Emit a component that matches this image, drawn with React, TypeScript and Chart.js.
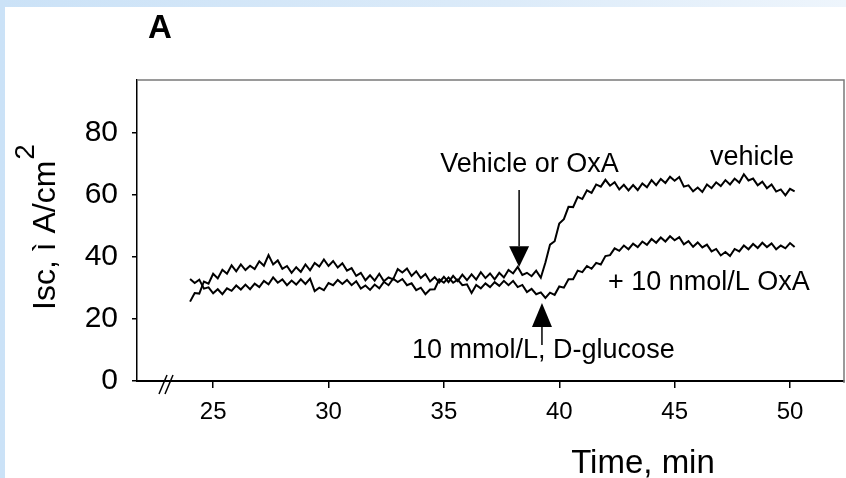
import { useEffect, useRef } from "react";
import { Chart, registerables } from "chart.js";

Chart.register(...registerables);

// ---- data ----
const TIME_START = 24.0;
const TIME_STEP = 0.2;

const VEHICLE = [
  25.6, 28.4, 28.2, 32.1, 31.4, 34.6, 33.1, 35.9, 34.6, 37.3,
  35.4, 37.6, 35.8, 37.2, 36.1, 38.6, 37.2, 40.6, 37.6, 38.9,
  36.2, 37.1, 34.9, 36.7, 35.2, 37.6, 35.7, 38.1, 36.9, 39.2,
  37.1, 38.7, 36.6, 38.0, 35.6, 36.4, 33.9, 34.9, 32.5, 34.1,
  32.4, 34.6, 32.2, 33.4, 32.8, 36.1, 35.0, 36.3, 33.9, 35.4,
  33.2, 34.5, 32.1, 33.5, 31.8, 33.6, 31.9, 33.9, 32.2, 34.3,
  32.5, 34.4, 32.7, 35.1, 33.2, 34.7, 32.8, 34.9, 33.4, 35.8,
  34.7, 36.8, 34.2, 34.9, 33.8, 35.6, 33.3, 38.2, 44.0, 45.1,
  50.8, 52.2, 56.2, 56.1, 59.4, 58.7, 61.5, 60.7, 63.4, 62.7,
  64.9, 63.0, 64.1, 61.8, 63.3, 61.5, 63.2, 61.6, 63.7, 62.5,
  64.8, 63.2, 65.2, 63.9, 65.9, 64.6, 65.8, 62.7, 63.1, 61.2,
  62.4, 61.0, 63.4, 62.2, 64.1, 62.9, 64.8, 63.4, 65.3, 64.0,
  66.7, 64.7, 65.3, 63.1, 64.3, 62.2, 63.4, 61.1, 61.8, 59.9,
  62.0, 61.2,
];

const OXA = [
  32.9, 31.6, 32.7, 29.8, 30.2, 28.3, 29.6, 28.0, 29.9, 29.1,
  30.8, 29.5, 31.1, 29.6, 31.4, 30.3, 32.3, 31.2, 33.4, 31.7,
  32.8, 30.9, 32.4, 31.1, 32.8, 31.3, 33.0, 29.0, 30.1, 29.3,
  31.6, 30.9, 32.6, 31.3, 32.6, 30.9, 32.2, 29.8, 30.8, 29.4,
  31.1, 29.9, 32.0, 30.9, 33.0, 31.9, 32.9, 30.9, 31.5, 29.3,
  30.1, 28.0, 29.5, 29.6, 32.8, 31.7, 33.4, 31.7, 32.7, 30.9,
  31.2, 28.4, 31.0, 29.9, 31.5, 30.3, 31.9, 30.7, 32.3, 30.9,
  32.3, 30.3, 31.0, 28.7, 29.7, 28.0, 28.6, 26.8, 28.5, 27.8,
  30.5, 30.1, 32.8, 32.8, 35.6, 35.1, 37.1, 36.2, 38.1, 37.6,
  40.3, 40.6, 42.8, 42.0, 43.7, 42.5, 44.3, 43.2, 45.0, 43.9,
  45.8, 44.6, 46.3, 45.0, 46.7, 45.4, 46.4, 44.1, 45.1, 43.3,
  44.7, 43.1, 44.0, 41.8, 42.6, 40.5, 41.6, 40.3, 42.6, 41.8,
  43.7, 42.5, 44.2, 42.9, 44.6, 43.2, 44.4, 42.5, 43.7, 42.8,
  44.5, 43.2,
];

const X_TICKS = [25, 30, 35, 40, 45, 50];
const Y_TICKS = [0, 20, 40, 60, 80];
const X_MIN = 21.7;
const X_MAX = 52.34;
const Y_MIN = 0;
const Y_MAX = 97.1;

const TIMES = VEHICLE.map((_, i) => Math.round((TIME_START + i * TIME_STEP) * 100) / 100);

// annotations (in data coordinates)
const LABELS = [
  { text: "Vehicle or OxA", t: 34.84, v: 67.4 },
  { text: "vehicle", t: 46.53, v: 69.7 },
  { text: "+ 10 nmol/L OxA", t: 42.11, v: 29.4 },
  { text: "10 mmol/L, D-glucose", t: 33.62, v: 7.4 },
];
const DOWN_ARROW = { t: 38.26, from: 61.6, headBase: 43.5, tip: 36.8 };
const UP_ARROW = { t: 39.25, from: 11.6, headBase: 17.4, tip: 25.2 };

const W = 846;
const H = 478;
const FONT = "'Liberation Sans', Arial, Helvetica, sans-serif";

const decor = {
  id: "decor",
  beforeDraw(chart: any) {
    const { ctx, width, height } = chart;
    ctx.save();
    const g = ctx.createLinearGradient(0, 0, width, 0);
    g.addColorStop(0, "#cbe2f7");
    g.addColorStop(0.6, "#dcebf9");
    g.addColorStop(1, "#eef5fc");
    ctx.fillStyle = g;
    ctx.fillRect(0, 0, width, height);
    ctx.fillStyle = "#ffffff";
    ctx.fillRect(5, 7, width - 5, height - 7);
    ctx.restore();
  },
  afterDraw(chart: any) {
    const { ctx, chartArea: a, scales } = chart;
    const xs = scales.x;
    const ys = scales.y;
    ctx.save();

    // top and right frame
    ctx.lineWidth = 1.5;
    ctx.strokeStyle = "#7a7a7a";
    ctx.beginPath();
    ctx.moveTo(a.left, a.top);
    ctx.lineTo(a.right, a.top);
    ctx.lineTo(a.right, a.bottom + 2);
    ctx.stroke();

    // axis break marks
    ctx.strokeStyle = "#000";
    ctx.lineWidth = 1.5;
    const bx = a.left + 26;
    const by = a.bottom;
    for (const dx of [0, 6]) {
      ctx.beginPath();
      ctx.moveTo(bx + dx - 4, by + 13);
      ctx.lineTo(bx + dx + 4, by - 6);
      ctx.stroke();
    }

    // arrows
    ctx.fillStyle = "#000";
    const dxp = xs.getPixelForValue(DOWN_ARROW.t);
    ctx.beginPath();
    ctx.moveTo(dxp, ys.getPixelForValue(DOWN_ARROW.from));
    ctx.lineTo(dxp, ys.getPixelForValue(DOWN_ARROW.headBase));
    ctx.stroke();
    ctx.beginPath();
    ctx.moveTo(dxp - 10, ys.getPixelForValue(DOWN_ARROW.headBase));
    ctx.lineTo(dxp + 10, ys.getPixelForValue(DOWN_ARROW.headBase));
    ctx.lineTo(dxp, ys.getPixelForValue(DOWN_ARROW.tip));
    ctx.closePath();
    ctx.fill();

    const uxp = xs.getPixelForValue(UP_ARROW.t);
    ctx.beginPath();
    ctx.moveTo(uxp, ys.getPixelForValue(UP_ARROW.from));
    ctx.lineTo(uxp, ys.getPixelForValue(UP_ARROW.headBase));
    ctx.stroke();
    ctx.beginPath();
    ctx.moveTo(uxp - 10, ys.getPixelForValue(UP_ARROW.headBase));
    ctx.lineTo(uxp + 10, ys.getPixelForValue(UP_ARROW.headBase));
    ctx.lineTo(uxp, ys.getPixelForValue(UP_ARROW.tip));
    ctx.closePath();
    ctx.fill();

    // annotation texts
    ctx.fillStyle = "#000";
    ctx.textBaseline = "alphabetic";
    ctx.textAlign = "left";
    ctx.font = `27px ${FONT}`;
    for (const l of LABELS) {
      ctx.fillText(l.text, xs.getPixelForValue(l.t), ys.getPixelForValue(l.v));
    }

    // panel letter
    ctx.font = `bold 33px ${FONT}`;
    ctx.fillText("A", 148, 38);

    // x title
    ctx.font = `33px ${FONT}`;
    ctx.textAlign = "center";
    ctx.fillText("Time, min", 643, 473);

    // y title with superscript
    ctx.translate(55, 310);
    ctx.rotate(-Math.PI / 2);
    ctx.textAlign = "left";
    ctx.font = `32px ${FONT}`;
    const main = "Isc, ì A/cm";
    ctx.fillText(main, 0, 0);
    const w = ctx.measureText(main).width;
    ctx.font = `28px ${FONT}`;
    ctx.fillText("2", w + 1, -21);

    ctx.restore();
  },
};

export default function App() {
  const ref = useRef<HTMLCanvasElement | null>(null);

  useEffect(() => {
    document.body.style.margin = "0";
    const canvas = ref.current;
    if (!canvas) return;
    const chart = new Chart(canvas, {
      type: "line",
      data: {
        datasets: [
          {
            label: "vehicle",
            data: TIMES.map((t, i) => ({ x: t, y: VEHICLE[i] })),
            borderColor: "#000",
            borderWidth: 2,
            pointRadius: 0,
            tension: 0,
            fill: false,
          },
          {
            label: "+ 10 nmol/L OxA",
            data: TIMES.map((t, i) => ({ x: t, y: OXA[i] })),
            borderColor: "#000",
            borderWidth: 2,
            pointRadius: 0,
            tension: 0,
            fill: false,
          },
        ],
      },
      options: {
        animation: false,
        responsive: false,
        devicePixelRatio: 1,
        layout: { padding: { top: 80, right: 2, left: 0, bottom: 0 } },
        plugins: {
          legend: { display: false },
          tooltip: { enabled: false },
          title: { display: false },
        },
        scales: {
          x: {
            type: "linear",
            min: X_MIN,
            max: X_MAX,
            afterBuildTicks: (s: any) => {
              s.ticks = X_TICKS.map((v) => ({ value: v }));
            },
            afterFit: (s: any) => {
              s.height = H - 381;
            },
            grid: {
              drawOnChartArea: false,
              drawTicks: true,
              tickLength: 7,
              color: "#000",
              lineWidth: 1.5,
            },
            border: { display: true, color: "#000", width: 2 },
            ticks: {
              color: "#000",
              font: { family: FONT, size: 24 },
              padding: 10,
              maxRotation: 0,
              autoSkip: false,
              callback: (v: any) => String(v),
            },
          },
          y: {
            type: "linear",
            min: Y_MIN,
            max: Y_MAX,
            afterBuildTicks: (s: any) => {
              s.ticks = Y_TICKS.map((v) => ({ value: v }));
            },
            afterFit: (s: any) => {
              s.width = 137;
            },
            grid: {
              drawOnChartArea: false,
              drawTicks: true,
              tickLength: 5,
              color: "#000",
              lineWidth: 1.5,
            },
            border: { display: true, color: "#000", width: 1.5 },
            ticks: {
              color: "#000",
              font: { family: FONT, size: 30 },
              padding: 14,
              autoSkip: false,
              callback: (v: any) => String(v),
            },
          },
        },
      },
      plugins: [decor],
    });
    return () => chart.destroy();
  }, []);

  return (
    <canvas
      ref={ref}
      width={W}
      height={H}
      style={{ position: "absolute", left: 0, top: 0, width: W, height: H, display: "block" }}
    />
  );
}
